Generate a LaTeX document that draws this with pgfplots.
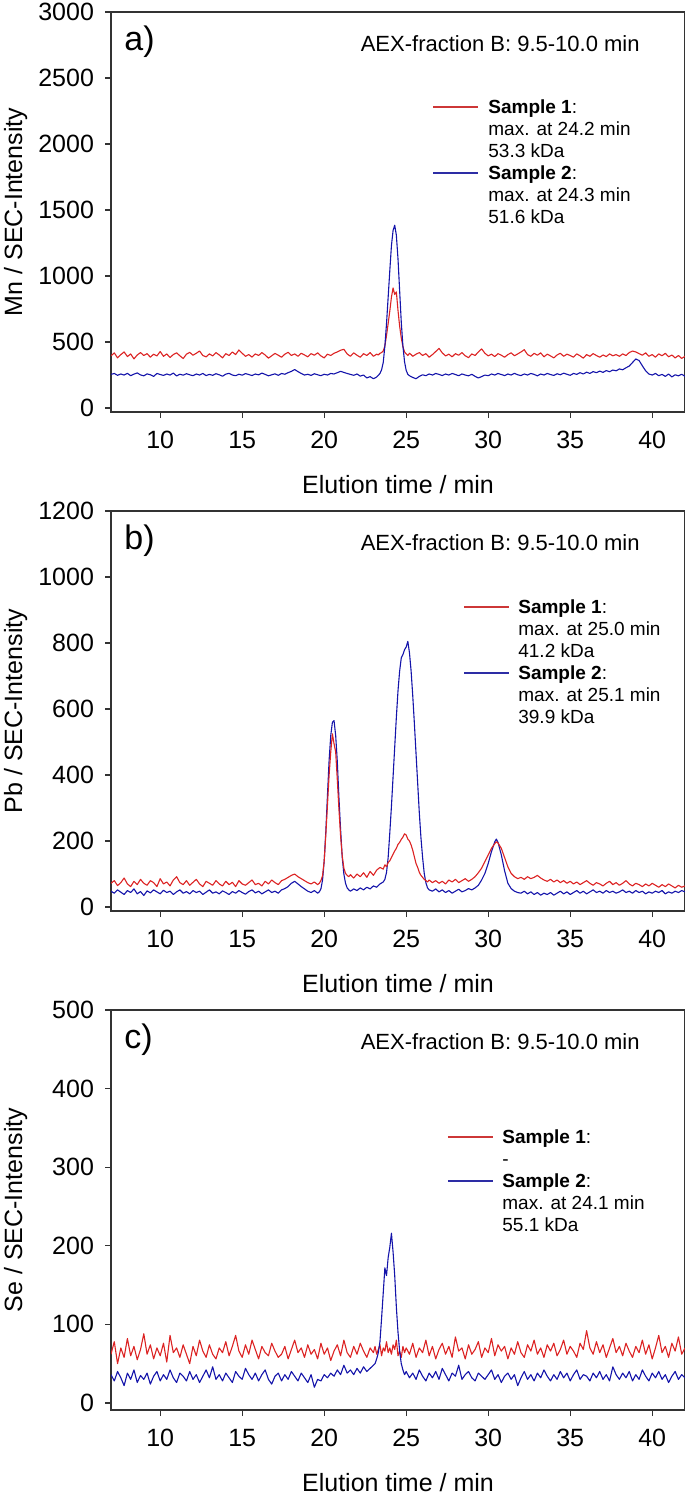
\documentclass[border=0pt]{standalone}
\usepackage{fontspec}
\setmainfont{Liberation Sans}
\usepackage{pgfplots}
\usepackage{pgfplotstable}
\pgfplotsset{compat=1.18}
\definecolor{sred}{RGB}{220,35,35}
\definecolor{sblue}{RGB}{20,20,170}
\definecolor{lred}{RGB}{205,55,55}
\definecolor{lblue}{RGB}{45,45,165}

\pgfplotstableread{
x r b
7.0 395 255
7.2 418 262
7.4 380 248
7.6 405 258
7.8 425 250
8.0 390 263
8.2 410 245
8.4 372 257
8.6 402 266
8.8 420 251
9.0 398 244
9.2 412 259
9.4 385 252
9.6 408 240
9.8 395 262
10.0 428 254
10.2 392 247
10.4 410 258
10.6 383 250
10.8 405 265
11.0 418 243
11.2 396 256
11.4 375 249
11.6 408 260
11.8 422 252
12.0 400 245
12.2 415 258
12.4 432 250
12.6 398 262
12.8 388 246
13.0 410 255
13.2 395 248
13.4 420 260
13.6 402 252
13.8 380 241
14.0 412 257
14.2 398 263
14.4 425 250
14.6 405 245
14.8 440 256
15.0 415 249
15.2 392 261
15.4 405 254
15.6 386 246
15.8 410 258
16.0 398 251
16.2 420 265
16.4 402 255
16.6 378 244
16.8 396 252
17.0 414 259
17.2 400 248
17.4 385 262
17.6 408 256
17.8 422 268
18.0 398 278
18.2 410 292
18.4 392 276
18.6 415 262
18.8 402 250
19.0 388 256
19.2 412 247
19.4 400 260
19.6 418 252
19.8 395 245
20.0 380 256
20.2 408 250
20.4 398 262
20.6 415 258
20.8 425 268
21.0 438 278
21.2 445 270
21.4 410 262
21.6 392 255
21.8 418 248
22.0 400 258
22.2 385 242
22.4 412 250
22.6 398 228
22.8 420 238
23.0 392 222
23.2 408 235
23.3 402 248
23.4 415 262
23.5 420 290
23.6 432 345
23.7 470 470
23.8 550 640
23.9 640 840
24.0 735 1040
24.1 840 1230
24.2 910 1345
24.3 860 1385
24.4 880 1310
24.5 740 1130
24.6 620 890
24.7 530 650
24.8 465 470
24.9 425 350
25.0 410 285
25.1 398 255
25.2 415 245
25.3 405 238
25.4 392 232
25.6 408 222
25.8 420 240
26.0 398 252
26.2 412 245
26.4 385 258
26.6 405 250
26.8 428 262
27.0 452 255
27.2 418 246
27.4 395 258
27.6 408 250
27.8 388 262
28.0 412 254
28.2 400 245
28.4 420 258
28.6 396 250
28.8 382 244
29.0 410 256
29.2 398 240
29.4 425 228
29.6 448 238
29.8 415 250
30.0 395 245
30.2 408 258
30.4 390 250
30.6 412 262
30.8 400 254
31.0 385 246
31.2 405 258
31.4 418 250
31.6 396 263
31.8 410 252
32.0 425 246
32.2 442 258
32.4 405 250
32.6 392 262
32.8 415 255
33.0 400 244
33.2 418 258
33.4 388 250
33.6 408 262
33.8 395 254
34.0 380 247
34.2 402 260
34.4 415 252
34.6 392 264
34.8 408 256
35.0 398 248
35.2 385 262
35.4 410 255
35.6 396 268
35.8 378 258
36.0 405 272
36.2 392 262
36.4 412 276
36.6 398 268
36.8 385 280
37.0 402 270
37.2 390 284
37.4 410 275
37.6 396 288
37.8 405 282
38.0 392 296
38.2 410 290
38.4 398 305
38.6 420 318
38.8 432 345
39.0 425 372
39.2 412 360
39.4 400 320
39.6 418 282
39.8 392 258
40.0 405 250
40.2 385 262
40.4 410 245
40.6 396 255
40.8 415 240
41.0 388 258
41.2 402 236
41.4 380 252
41.6 398 244
41.8 376 256
42.0 392 240
}\dataa

\pgfplotstableread{
x r b
7.0 72 48
7.2 80 42
7.4 65 52
7.6 74 45
7.8 88 38
8.0 70 50
8.2 62 44
8.4 78 55
8.6 68 40
8.8 84 47
9.0 72 35
9.2 66 49
9.4 80 43
9.6 74 52
9.8 62 46
10.0 86 40
10.2 70 51
10.4 76 44
10.6 64 48
10.8 82 38
11.0 92 46
11.2 74 52
11.4 68 42
11.6 80 47
11.8 66 40
12.0 75 50
12.2 84 44
12.4 70 48
12.6 62 38
12.8 78 45
13.0 72 52
13.2 66 42
13.4 80 46
13.6 70 40
13.8 64 49
14.0 78 44
14.2 68 38
14.4 75 47
14.6 62 42
14.8 80 50
15.0 70 44
15.2 66 39
15.4 74 47
15.6 82 52
15.8 68 43
16.0 72 48
16.2 64 40
16.4 78 46
16.6 70 52
16.8 82 44
17.0 74 48
17.2 68 42
17.4 80 52
17.6 84 56
17.8 90 62
18.0 96 72
18.2 100 78
18.4 92 70
18.6 86 62
18.8 80 55
19.0 74 48
19.2 70 44
19.4 76 50
19.6 68 42
19.7 72 46
19.8 80 55
19.9 95 82
20.0 140 140
20.1 220 230
20.2 310 340
20.3 400 445
20.4 470 520
20.5 525 560
20.6 495 565
20.7 470 520
20.8 385 440
20.9 295 330
21.0 215 235
21.1 155 150
21.2 118 100
21.3 102 72
21.4 96 58
21.5 92 52
21.6 98 48
21.8 88 55
22.0 100 50
22.2 92 58
22.4 104 52
22.6 90 60
22.8 108 55
23.0 96 64
23.2 112 60
23.4 120 70
23.6 115 76
23.7 128 84
23.8 122 105
23.9 135 150
24.0 140 225
24.1 150 305
24.2 160 395
24.3 170 485
24.4 178 575
24.5 190 655
24.6 196 715
24.7 205 755
24.8 212 765
24.9 222 780
25.0 218 788
25.1 206 805
25.2 200 770
25.3 188 715
25.4 172 640
25.5 152 555
25.6 132 465
25.7 120 375
25.8 105 285
25.9 96 210
26.0 90 150
26.1 84 102
26.2 80 74
26.3 76 58
26.4 82 52
26.6 74 48
26.8 80 55
27.0 72 46
27.2 78 52
27.4 70 44
27.6 82 50
27.8 76 42
28.0 84 48
28.2 74 54
28.4 80 46
28.6 86 50
28.8 78 56
29.0 84 52
29.2 92 58
29.4 104 66
29.6 118 82
29.8 138 102
30.0 158 132
30.2 178 168
30.4 192 198
30.5 198 206
30.6 194 196
30.8 178 158
31.0 150 110
31.2 122 72
31.4 102 56
31.6 92 48
31.8 86 44
32.0 90 42
32.2 84 48
32.4 92 40
32.6 86 46
32.8 90 38
33.0 96 44
33.2 88 36
33.4 82 42
33.6 78 38
33.8 84 44
34.0 76 36
34.2 82 42
34.4 74 48
34.6 80 40
34.8 72 46
35.0 78 38
35.2 70 44
35.4 76 50
35.6 68 42
35.8 74 48
36.0 80 40
36.2 72 46
36.4 66 52
36.6 74 44
36.8 70 48
37.0 64 42
37.2 72 50
37.4 78 44
37.6 68 48
37.8 74 42
38.0 66 46
38.2 72 52
38.4 80 44
38.6 70 48
38.8 64 42
39.0 72 50
39.2 68 44
39.4 62 48
39.6 70 40
39.8 64 46
40.0 72 42
40.2 66 48
40.4 60 44
40.6 68 50
40.8 62 40
41.0 70 46
41.2 64 42
41.4 58 48
41.6 66 44
41.8 60 50
42.0 64 46
}\datab

\pgfplotstableread{
x r b
7.0 62 36
7.2 78 28
7.4 50 40
7.6 70 32
7.8 58 22
8.0 82 38
8.2 60 30
8.4 72 42
8.6 55 26
8.8 68 35
9.0 88 30
9.2 62 38
9.4 74 24
9.6 56 34
9.8 70 40
10.0 60 28
10.2 76 36
10.4 52 30
10.6 86 42
10.8 64 32
11.0 70 26
11.2 58 38
11.4 74 34
11.6 62 28
11.8 50 40
12.0 72 30
12.2 60 36
12.4 80 26
12.6 66 34
12.8 58 42
13.0 74 32
13.2 62 46
13.4 56 30
13.6 70 36
13.8 64 28
14.0 78 38
14.2 60 32
14.4 72 26
14.6 86 40
14.8 66 34
15.0 58 30
15.2 74 44
15.4 62 36
15.6 80 30
15.8 68 38
16.0 56 28
16.2 72 36
16.4 64 42
16.6 60 30
16.8 76 24
17.0 66 34
17.2 58 38
17.4 62 28
17.6 72 36
17.8 56 30
18.0 68 40
18.2 80 34
18.4 64 28
18.6 70 38
18.8 58 32
19.0 74 26
19.2 62 36
19.4 68 20
19.6 56 30
19.8 76 28
20.0 62 36
20.2 70 32
20.4 54 38
20.6 66 34
20.8 74 42
21.0 60 36
21.2 80 48
21.4 64 38
21.6 58 42
21.8 72 36
22.0 62 44
22.2 76 38
22.4 66 46
22.6 58 40
22.8 70 44
23.0 64 48
23.1 72 50
23.2 62 56
23.3 68 64
23.4 74 78
23.5 60 108
23.6 70 140
23.7 66 172
23.8 78 162
23.9 64 185
24.0 70 198
24.1 62 216
24.2 74 192
24.3 68 162
24.4 80 122
24.5 60 90
24.6 66 66
24.7 58 50
24.8 72 42
24.9 64 36
25.0 70 40
25.2 62 32
25.4 76 38
25.6 58 30
25.8 70 42
26.0 64 34
26.2 80 28
26.4 60 38
26.6 72 32
26.8 56 40
27.0 68 30
27.2 76 44
27.4 62 36
27.6 72 28
27.8 58 38
28.0 84 34
28.2 66 48
28.4 70 30
28.6 56 36
28.8 74 40
29.0 62 32
29.2 68 28
29.4 78 38
29.6 58 34
29.8 70 30
30.0 64 36
30.2 82 42
30.4 60 30
30.6 74 36
30.8 66 26
31.0 72 34
31.2 56 38
31.4 70 30
31.6 62 36
31.8 78 22
32.0 64 32
32.2 58 40
32.4 74 30
32.6 66 36
32.8 80 28
33.0 62 38
33.2 70 32
33.4 58 42
33.6 74 34
33.8 66 28
34.0 76 36
34.2 60 30
34.4 68 40
34.6 80 32
34.8 62 38
35.0 72 28
35.2 66 36
35.4 58 42
35.6 76 30
35.8 68 36
36.0 92 34
36.2 70 28
36.4 62 38
36.6 78 32
36.8 64 40
37.0 74 30
37.2 58 36
37.4 70 28
37.6 82 46
37.8 64 36
38.0 72 30
38.2 60 38
38.4 76 32
38.6 66 40
38.8 58 28
39.0 72 36
39.2 64 30
39.4 80 42
39.6 62 34
39.8 74 28
40.0 56 38
40.2 70 32
40.4 86 40
40.6 64 30
40.8 72 36
41.0 58 26
41.2 76 34
41.4 66 40
41.6 84 30
41.8 62 36
42.0 70 32
}\datac

\pgfplotsset{
  panel/.style={
    scale only axis, width=287pt, height=200pt,
    xmin=7, xmax=42, xtick={10,15,...,40},
    axis line style={black!80, line width=0.7pt},
    tick style={black!80, line width=0.6pt},
    tick align=outside, xtick pos=bottom, ytick pos=left,
    major tick length=3pt,
    tick label style={font=\fontsize{12.5}{14}\selectfont},
    /pgf/number format/assume math mode=true,
    /pgf/number format/1000 sep={},
    every axis x label/.style={at={(axis description cs:0.5,0)}, anchor=base, yshift=-40.5pt, font=\fontsize{12.5}{15}\selectfont},
    every axis y label/.style={at={(axis description cs:0,0.5)}, rotate=90, anchor=base, yshift=44.5pt, font=\fontsize{12.5}{15}\selectfont},
    xlabel={Elution time / min},
    yticklabel style={xshift=-2pt},
    xticklabel style={yshift=-3pt},
  },
  s1/.style={sred, line width=0.55pt, line join=round},
  s2/.style={sblue, line width=0.55pt, line join=round},
}
\tikzset{
  lt/.style={anchor=base west, inner sep=0pt, font=\fontsize{9.5}{11}\selectfont},
  panellab/.style={anchor=base west, inner sep=0pt, font=\fontsize{17}{19}\selectfont},
  aex/.style={anchor=base east, inner sep=0pt, font=\fontsize{11}{13}\selectfont},
}

\begin{document}
\begin{tikzpicture}
\path[use as bounding box] (0pt,0pt) rectangle (342.5pt,-747.5pt);

% ---------- a) Mn ----------
\begin{axis}[panel, at={(55.5pt,-206pt)}, anchor=south west,
  ymin=-30, ymax=3000, ytick={0,500,...,3000},
  ylabel={Mn / SEC-Intensity}]
\addplot[s1] table[x=x,y=r] {\dataa};
\addplot[s2] table[x=x,y=b] {\dataa};
\draw[lred, line width=0.9pt] (axis description cs:0.561,0.7625) -- (axis description cs:0.6394,0.7625);
\draw[lblue, line width=0.9pt] (axis description cs:0.561,0.5975) -- (axis description cs:0.6394,0.5975);
\node[lt] at (axis description cs:0.6568,0.7475) {\textbf{Sample 1}:};
\node[lt] at (axis description cs:0.6568,0.6925) {max. at 24.2 min};
\node[lt] at (axis description cs:0.6568,0.6375) {53.3 kDa};
\node[lt] at (axis description cs:0.6568,0.5825) {\textbf{Sample 2}:};
\node[lt] at (axis description cs:0.6568,0.5275) {max. at 24.3 min};
\node[lt] at (axis description cs:0.6568,0.4725) {51.6 kDa};
\node[panellab] at (axis description cs:0.0226,0.905) {a)};
\node[aex] at (axis description cs:0.9216,0.9025) {AEX-fraction B: 9.5-10.0 min};
\end{axis}

% ---------- b) Pb ----------
\begin{axis}[panel, at={(55.5pt,-455.5pt)}, anchor=south west,
  ymin=-12, ymax=1200, ytick={0,200,...,1200},
  ylabel={Pb / SEC-Intensity}]
\addplot[s2] table[x=x,y=b] {\datab};
\addplot[s1] table[x=x,y=r] {\datab};
\draw[lred, line width=0.9pt] (axis description cs:0.615,0.76) -- (axis description cs:0.6934,0.76);
\draw[lblue, line width=0.9pt] (axis description cs:0.615,0.595) -- (axis description cs:0.6934,0.595);
\node[lt] at (axis description cs:0.709,0.745) {\textbf{Sample 1}:};
\node[lt] at (axis description cs:0.709,0.69) {max. at 25.0 min};
\node[lt] at (axis description cs:0.709,0.635) {41.2 kDa};
\node[lt] at (axis description cs:0.709,0.58) {\textbf{Sample 2}:};
\node[lt] at (axis description cs:0.709,0.525) {max. at 25.1 min};
\node[lt] at (axis description cs:0.709,0.47) {39.9 kDa};
\node[panellab] at (axis description cs:0.0226,0.905) {b)};
\node[aex] at (axis description cs:0.9216,0.9025) {AEX-fraction B: 9.5-10.0 min};
\end{axis}

% ---------- c) Se ----------
\begin{axis}[panel, at={(55.5pt,-705pt)}, anchor=south west,
  ymin=-9, ymax=500, ytick={0,100,...,500},
  ylabel={Se / SEC-Intensity}]
\addplot[s1] table[x=x,y=r] {\datac};
\addplot[s2] table[x=x,y=b] {\datac};
\draw[lred, line width=0.9pt] (axis description cs:0.587,0.6825) -- (axis description cs:0.6654,0.6825);
\draw[lblue, line width=0.9pt] (axis description cs:0.587,0.5725) -- (axis description cs:0.6654,0.5725);
\node[lt] at (axis description cs:0.6812,0.6675) {\textbf{Sample 1}:};
\node[lt] at (axis description cs:0.6812,0.6125) {-};
\node[lt] at (axis description cs:0.6812,0.5575) {\textbf{Sample 2}:};
\node[lt] at (axis description cs:0.6812,0.5025) {max. at 24.1 min};
\node[lt] at (axis description cs:0.6812,0.4475) {55.1 kDa};
\node[panellab] at (axis description cs:0.0226,0.905) {c)};
\node[aex] at (axis description cs:0.9216,0.9025) {AEX-fraction B: 9.5-10.0 min};
\end{axis}
\end{tikzpicture}
\end{document}
